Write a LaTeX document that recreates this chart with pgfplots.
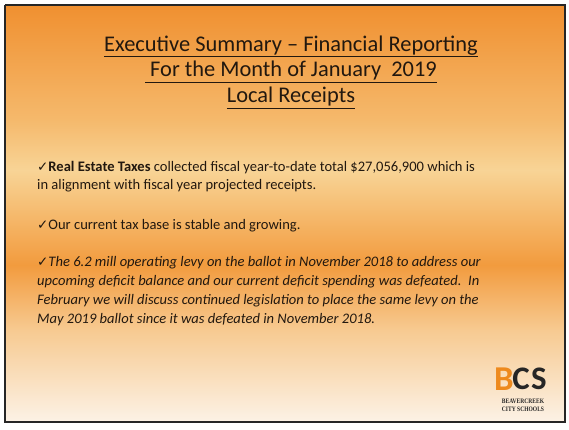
\documentclass[border=0pt]{standalone}
\usepackage{pgfplots}
\pgfplotsset{compat=1.18}
\usepackage{fontspec}
\setmainfont{Carlito}
\newfontfamily\sym{DejaVu Sans}
\newfontfamily\logofont{Liberation Serif}
\definecolor{txt}{HTML}{22180F}
\definecolor{bcsorange}{HTML}{EE8A1E}
\newcommand{\ck}{{\sym\fontsize{13.5}{12}\selectfont ✓}}

% background bands: x, y, colour index
\pgfplotstableread{
x   y   c
5   5   0
565 5   0
565 120 1
5   5   0
565 120 1
5   120 1
5   120 1
565 120 1
565 170 2
5   120 1
565 170 2
5   170 2
5   170 2
565 170 2
565 265 3
5   170 2
565 265 3
5   265 3
5   265 3
565 265 3
565 330 4
5   265 3
565 330 4
5   330 4
5   330 4
565 330 4
565 422 5
5   330 4
565 422 5
5   422 5
}\bgtable

\begin{document}
\begin{tikzpicture}
\begin{axis}[
    x=1bp, y=1bp,
    xmin=0, xmax=569, ymin=0, ymax=429,
    y dir=reverse,
    axis lines=none,
    ticks=none,
    clip=false,
    scale only axis,
    colormap={slide}{rgb255(0)=(240,144,48); rgb255(1)=(245,185,108); rgb255(2)=(248,212,150); rgb255(3)=(242,155,62); rgb255(4)=(247,202,145); rgb255(5)=(252,242,230)},
    point meta min=0, point meta max=5,
]
% page
\addplot[draw=none, fill=white] coordinates {(0,0) (569,0) (569,429) (0,429)} \closedcycle;
% background gradient
\addplot[patch, shader=interp, point meta=explicit] table[x=x, y=y, meta=c] {\bgtable};
% frame
\addplot[draw=black!85, line width=1.8pt] coordinates {(5,5) (565,5) (565,422) (5,422) (5,5)};

% title
\node[text=txt, font=\fontsize{22.5}{26}\selectfont, align=center] at (axis cs:291,72)
  {\underline{Executive Summary – Financial Reporting}\\
   \underline{ For the Month of January\ \ 2019}\\
   \underline{Local Receipts}};

% body
\node[text=txt, font=\fontsize{14.6}{18.5}\selectfont, anchor=north west, align=left, inner sep=0pt]
  at (axis cs:37,161)
  {\ck\textbf{Real Estate Taxes} collected fiscal year-to-date total \$27,056,900 which is\\
   in alignment with fiscal year projected receipts.};
\node[text=txt, font=\fontsize{14.6}{19}\selectfont, anchor=north west, align=left, inner sep=0pt]
  at (axis cs:37,219)
  {\ck Our current tax base is stable and growing.};
\node[text=txt, font=\fontsize{14.6}{19}\selectfont\itshape, anchor=north west, align=left, inner sep=0pt]
  at (axis cs:37,256)
  {\ck The 6.2 mill operating levy on the ballot in November 2018 to address our\\
   upcoming deficit balance and our current deficit spending was defeated.\ \ In\\
   February we will discuss continued legislation to place the same levy on the\\
   May 2019 ballot since it was defeated in November 2018.};

% logo
\node[font=\fontsize{35}{35}\selectfont\bfseries, text=bcsorange, inner sep=0pt] at (axis cs:504,379) {B};
\node[font=\fontsize{33}{33}\selectfont\bfseries, text=black!85, inner sep=0pt] at (axis cs:521,379) {C};
\node[font=\fontsize{33}{33}\selectfont\bfseries, text=black!85, inner sep=0pt] at (axis cs:539,379) {S};
\node[font=\logofont\fontsize{6.8}{7}\selectfont\bfseries, text=black!85, inner sep=0pt] at (axis cs:523,401)
  {\scalebox{0.82}[1]{BEAVERCREEK}};
\node[font=\logofont\fontsize{6.8}{7}\selectfont\bfseries, text=black!85, inner sep=0pt] at (axis cs:523,409)
  {\scalebox{0.82}[1]{CITY SCHOOLS}};
\end{axis}
\end{tikzpicture}
\end{document}
